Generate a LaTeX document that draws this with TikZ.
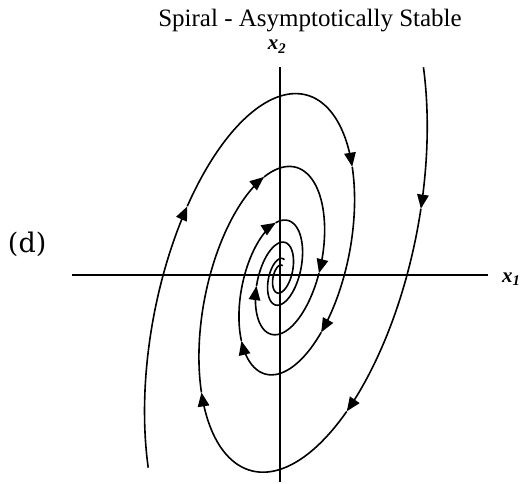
\documentclass[tikz,border=0pt]{standalone}
\usepackage{fontspec}
\setmainfont{Liberation Serif}
\newfontfamily\dfont{DejaVu Serif}
\usetikzlibrary{arrows.meta}
\newcommand\spiralseg[3]{plot[domain=#2:#3,samples=80,variable=\t,smooth]
  ({280+#1*exp(-0.19*\t)*(127*cos(\t r)-46.6*sin(\t r))},
   {208-#1*exp(-0.19*\t)*261*sin(\t r)})}
\tikzset{
  traj/.style={line width=1.6pt},
  flowtip/.style={-{Triangle[length=14pt,width=11.5pt]}},
  axisline/.style={line width=1.6pt},
  lbl/.style={inner sep=0pt,outer sep=0pt},
  axlbl/.style={lbl,font=\fontsize{21}{25}\selectfont\bfseries\itshape}
}
\begin{document}
\begin{tikzpicture}[x=1pt,y=1pt]
\useasboundingbox (0,0) rectangle (522,483);
% axes
\coordinate (xl) at (72,208);
\coordinate (xr) at (488,208);
\coordinate (yb) at (280,1);
\coordinate (yt) at (280,416);
\draw[axisline] (xl) -- (xr);
\draw[axisline] (yb) -- (yt);
% labels
\node[lbl,anchor=base] (title) at (310,456) {\fontsize{25}{30}\selectfont Spiral - Asymptotically Stable};
\node[axlbl,anchor=base] (x2) at (277,433) {x\textsubscript{2}};
\node[axlbl,anchor=base west] (x1) at (502,201) {x\textsubscript{1}};
\node[lbl,anchor=base west] (d) at (8,231) {\fontsize{27}{32}\selectfont\dfont (d)};
% trajectory A (starts top right)
\draw[traj,flowtip] \spiralseg{1}{-0.76}{-0.245};
\draw[traj,flowtip] \spiralseg{1}{-0.245}{0.63};
\draw[traj,flowtip] \spiralseg{1}{0.63}{2.36};
\draw[traj,flowtip] \spiralseg{1}{2.36}{4.1};
\draw[traj,flowtip] \spiralseg{1}{4.1}{6.26};
\draw[traj,flowtip] \spiralseg{1}{6.26}{9.18};
\draw[traj] \spiralseg{1}{9.18}{17.5};
% trajectory B (starts bottom left)
\draw[traj,flowtip] \spiralseg{1.671}{2.375}{3.45};
\draw[traj,flowtip] \spiralseg{1.671}{3.45}{5.5};
\draw[traj,flowtip] \spiralseg{1.671}{5.5}{6.78};
\draw[traj,flowtip] \spiralseg{1.671}{6.78}{8.55};
\draw[traj,flowtip] \spiralseg{1.671}{8.55}{10.5};
\draw[traj] \spiralseg{1.671}{10.5}{17.5};
\end{tikzpicture}
\end{document}
